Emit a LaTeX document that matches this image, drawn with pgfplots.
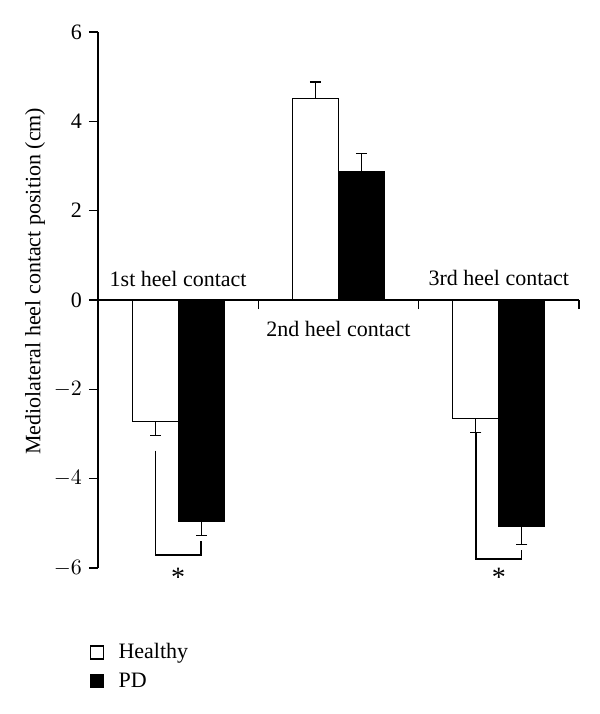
\documentclass[border=0pt]{standalone}
\usepackage{fontspec}
\setmainfont{Liberation Serif}
\usepackage{pgfplots}
\pgfplotsset{compat=1.18}
\begin{document}
\begin{tikzpicture}
\useasboundingbox (-49pt,-73pt) rectangle (251pt,284pt);
\begin{axis}[
  scale only axis,
  width=240.5pt, height=268pt,
  at={(0,0)}, anchor=south west,
  xmin=0.5, xmax=3.5, ymin=-6, ymax=6,
  axis x line=middle, axis y line=left,
  axis line style={-, line width=0.6pt},
  every tick/.style={black, line width=0.6pt},
  major tick length=4.5pt,
  tick align=outside,
  xtick={1.5,2.5,3.5}, xticklabels={},
  ytick={-6,-4,-2,0,2,4,6},
  yticklabels={$-6$,$-4$,$-2$,0,2,4,6},
  /pgf/number format/assume math mode=true,
  tick label style={font=\fontsize{11}{13}\selectfont},
  ylabel={Mediolateral heel contact position (cm)},
  ylabel style={font=\fontsize{11}{13}\selectfont, at={(axis description cs:-0.131,0.535)}, anchor=center},
  ybar=0pt, bar width=23pt,
  clip=false,
  legend style={at={(rel axis cs:-0.03,-0.125)}, anchor=north west, draw=none, fill=none,
    font=\fontsize{11}{13}\selectfont, row sep=1.5pt, legend cell align=left},
  legend image code/.code={\draw[#1, line width=0.6pt] (0pt,-3.25pt) rectangle (6.5pt,3.25pt); \path[draw=none, fill=none] (0pt,0pt) -- (12pt,0pt);},
  error bars/error bar style={line width=0.6pt, black},
  error bars/error mark options={black, line width=0.6pt, mark size=2.75pt, rotate=90},
]
\addplot[draw=black, fill=white, line width=0.6pt,
  error bars/.cd, y dir=both, y explicit]
  coordinates {(1,-2.72) += (0,0) -= (0,0.31)
               (2,4.52) += (0,0.36) -= (0,0)
               (3,-2.65) += (0,0) -= (0,0.32)};
\addlegendentry{Healthy}
\addplot[draw=black, fill=black, line width=0.6pt,
  error bars/.cd, y dir=both, y explicit]
  coordinates {(1,-4.95) += (0,0) -= (0,0.33)
               (2,2.88) += (0,0.40) -= (0,0)
               (3,-5.06) += (0,0) -= (0,0.42)};
\addlegendentry{PD}
\node[font=\fontsize{11}{13}\selectfont] at (axis cs:1,0.47) {1st heel contact};
\node[font=\fontsize{11}{13}\selectfont] at (axis cs:2,-0.65) {2nd heel contact};
\node[font=\fontsize{11}{13}\selectfont] at (axis cs:3,0.49) {3rd heel contact};
\draw[line width=0.6pt] (axis cs:0.857,-3.37) -- (axis cs:0.857,-5.71) -- (axis cs:1.143,-5.71) -- (axis cs:1.143,-5.39);
\draw[line width=0.6pt] (axis cs:2.857,-2.97) -- (axis cs:2.857,-5.80) -- (axis cs:3.143,-5.80) -- (axis cs:3.143,-5.60);
\node[font=\fontsize{14}{16}\selectfont, inner sep=0pt] at (axis cs:1,-6.22) {*};
\node[font=\fontsize{14}{16}\selectfont, inner sep=0pt] at (axis cs:3,-6.22) {*};
\end{axis}
\end{tikzpicture}
\end{document}
